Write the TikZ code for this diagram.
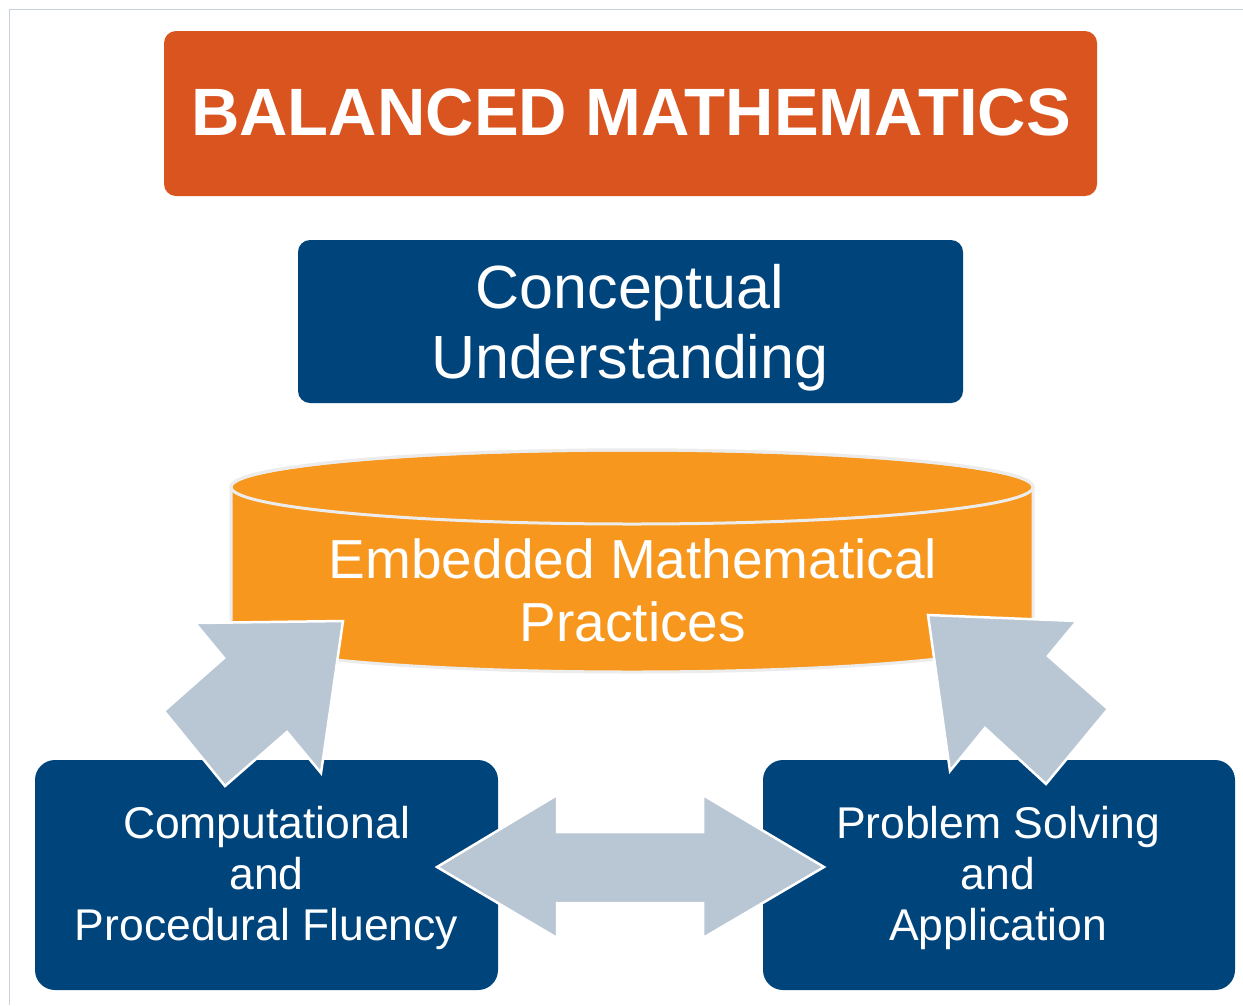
\documentclass[tikz,border=0pt]{standalone}
\usepackage{fontspec}
\setmainfont{Liberation Sans}
\definecolor{titleor}{RGB}{217,84,30}
\definecolor{dkblue}{RGB}{0,68,124}
\definecolor{cylor}{RGB}{247,151,30}
\definecolor{arrgray}{RGB}{185,199,213}
\definecolor{cylline}{RGB}{236,236,236}
\definecolor{framecol}{RGB}{200,210,222}
\begin{document}
\begin{tikzpicture}[x=1pt,y=-1pt,
  box/.style={rectangle, draw=none, inner sep=0pt, outer sep=0pt},
  lbl/.style={text=white, align=center, inner sep=0pt},
  blockarrow/.style={fill=arrgray, draw=white, line width=2.5pt, line join=miter}]
\fill[white] (0,0) rectangle (1243,1005);
\useasboundingbox (0,0) rectangle (1243,1005);
\draw[framecol, line width=1.5pt] (9.5,1005) -- (9.5,9.5) -- (1243,9.5);
% boxes
\node[box, fill=titleor, rounded corners=12pt, minimum width=933pt, minimum height=165pt] (titlebox) at (630.5,113.5) {};
\node[box, fill=dkblue, rounded corners=12pt, minimum width=665pt, minimum height=163pt] (conceptbox) at (630.5,321.5) {};
% cylinder
\path[fill=cylor, draw=cylline, line width=3pt] (231,487) -- (231,635)
  arc[start angle=180, end angle=360, x radius=401pt, y radius=37pt] -- (1033,487)
  arc[start angle=0, end angle=180, x radius=401pt, y radius=37pt] -- cycle;
\draw[cylline, line width=3pt] (632,487) ellipse [x radius=401pt, y radius=37pt];
% bottom boxes
\node[box, fill=dkblue, rounded corners=20pt, minimum width=463pt, minimum height=230pt] (compbox) at (266.5,875) {};
\node[box, fill=dkblue, rounded corners=20pt, minimum width=472pt, minimum height=230pt] (probbox) at (999,875) {};
% block arrows
\path[blockarrow] (343,621) -- (195,623) -- (224,658) -- (164,711) -- (225,786) -- (287,732) -- (321,773) -- cycle;
\path[blockarrow] (928,615) -- (1077,621) -- (1048,656) -- (1108,709) -- (1046,784) -- (985,728) -- (950,771) -- cycle;
\path[blockarrow] (437,867) -- (557,795) -- (557,832) -- (703,832) -- (703,795) -- (824,867) -- (703,938) -- (703,903) -- (557,903) -- (557,938) -- cycle;
% texts
\node[lbl, font=\fontsize{67}{80}\selectfont\bfseries] (title) at (631,112.5) {BALANCED MATHEMATICS};
\node[lbl, font=\fontsize{61}{70}\selectfont] (concept) at (630,328) {Conceptual\\Understanding};
\node[lbl, font=\fontsize{55}{63}\selectfont] (emp) at (633,590) {Embedded Mathematical\\Practices};
\node[lbl, font=\fontsize{44.5}{51}\selectfont] (comp) at (266.5,877.6) {Computational\\and\\Procedural Fluency};
\node[lbl, font=\fontsize{44.5}{51}\selectfont] (prob) at (998,877.6) {Problem Solving\\and\\Application};
\end{tikzpicture}
\end{document}
